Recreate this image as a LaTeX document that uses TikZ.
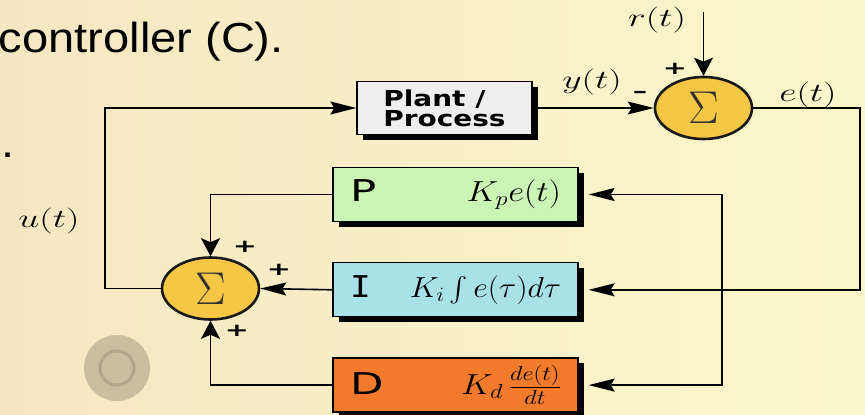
\RequirePackage{fix-cm}
\documentclass[tikz,border=0pt]{standalone}
\usepackage{exscale}
\usepackage{fontspec}
\usepackage{graphicx}
\usetikzlibrary{arrows.meta, positioning, calc, shapes.geometric, shadows}
\newfontfamily\slidefont{Liberation Sans}
\newfontfamily\blockfont{DejaVu Sans}
\newfontfamily\blockmono{DejaVu Sans Mono}
\definecolor{pidParchment}{HTML}{FCF7CB}
\definecolor{pidParchmentDark}{HTML}{F5E7C2}
\definecolor{pidSum}{HTML}{F6C744}
\definecolor{pidP}{HTML}{CBF5B5}
\definecolor{pidI}{HTML}{A9E1E8}
\definecolor{pidD}{HTML}{F17A2B}
\definecolor{pidPlant}{HTML}{EEEEEE}
\definecolor{pidStain}{HTML}{ADA18A}
\newcommand{\wide}[2][1.5]{\scalebox{#1}[1]{#2}}
\newcommand{\pidletter}[2][1.45]{{\fontsize{30}{30}\selectfont\wide[#1]{#2}}}
\newcommand{\pidterm}[2][1.2]{\wide[#1]{\fontsize{29}{29}\selectfont$#2$}}

\begin{document}
\begin{tikzpicture}[
  x=1pt, y=-1pt,
  line width=1.6pt,
  node distance=40pt,
  harr/.style={-{Stealth[length=26pt, width=13pt, inset=4pt]}},
  varr/.style={-{Stealth[length=18pt, width=19pt, inset=4pt]}},
  shadowed/.style={drop shadow={shadow xshift=6pt, shadow yshift=-5pt, opacity=1, fill=black}},
  pidbox/.style={shadowed, draw=black, line width=1.3pt, minimum width=245pt,
                 minimum height=54pt, text width=211pt, inner xsep=17pt, align=left},
  plantbox/.style={shadowed, draw=black, line width=1.3pt, fill=pidPlant,
                   minimum width=175pt, minimum height=53pt, align=left,
                   font=\blockfont\bfseries\fontsize{22}{20}\selectfont},
  sumnode/.style={ellipse, draw=black!90, line width=2.6pt, fill=pidSum, minimum width=97pt,
                  minimum height=62pt, inner sep=0pt, text=black!80,
                  font=\fontsize{46}{46}\selectfont},
  sign/.style={inner sep=0pt, xscale=1.6, font=\blockfont\bfseries\fontsize{18}{18}\selectfont},
  siglabel/.style={inner sep=0pt, xscale=1.45, font=\fontsize{26}{26}\selectfont},
]
\shade[left color=pidParchmentDark, right color=pidParchment] (0,0) rectangle (865,415);
\useasboundingbox (0,0) rectangle (865,415);
\fill[pidStain, opacity=0.6] (117,368) circle [radius=33];
\draw[pidStain!60!black, opacity=0.25, line width=3pt] (117,368) circle [radius=17];

\node[anchor=base west, inner sep=0pt, xscale=1.12,
      font=\slidefont\fontsize{42}{50}\selectfont] (caption) at (-2,52) {controller (C).};
\node[anchor=base west, inner sep=0pt, xscale=1.12,
      font=\slidefont\fontsize{42}{50}\selectfont] (stop) at (0.5,157) {.};

\node[plantbox] (plant) at (444.5,108) {\wide[1.27]{Plant /}\\\wide[1.27]{Process}};
\node[sumnode] (sumR) at (703.5,108) {$\Sigma$};
\node[sumnode] (sumL) at (210.5,288.5) {$\Sigma$};

\node[pidbox, fill=pidP] (P) at (455.5,194.5)
  {\pidletter{\blockfont P}\hfill\pidterm{K_p e(t)}};
\node[pidbox, fill=pidI, below=of P] (I)
  {\pidletter[1.15]{\blockmono I}\hfill\pidterm[1.1]{K_i\int e(\tau)d\tau}};
\node[pidbox, fill=pidD, below=of I] (D)
  {\pidletter{\blockfont D}\hfill\pidterm{K_d\,\frac{de(t)}{dt}}};

\node[siglabel] (rlab) at (657,20) {$r(t)$};
\node[siglabel] (ylab) at (592,82) {$y(t)$};
\node[siglabel] (elab) at (808,95) {$e(t)$};
\node[siglabel] (ulab) at (49,221) {$u(t)$};

\node[sign] (plusR) at (675,69) {+};
\node[sign] (minusR) at (640,94) {–};
\node[sign] (plusP) at (245,247) {+};
\node[sign] (plusI) at (279,270) {+};
\node[sign] (plusD) at (237,331) {+};

\coordinate (rin) at (703.5,12);
\coordinate (etop) at (860,108);
\coordinate (ucorner) at (105,108);
\coordinate (branch) at (722,0);

\draw[varr] (rin) -- (sumR.north);
\draw[harr] (plant.east) -- (sumR.west);
\draw[harr] (sumR.east) -- (etop) |- ([xshift=10pt]I.east);
\draw[harr] (branch |- I.east) |- ([xshift=10pt]P.east);
\draw[harr] (branch |- I.east) |- ([xshift=10pt]D.east);
\draw[varr] (P.west) -| (sumL.north);
\draw[harr] (I.west) -- (sumL.east);
\draw[varr] (D.west) -| (sumL.south);
\draw[harr] (sumL.west) -| (ucorner) -- (plant.west);
\end{tikzpicture}
\end{document}
